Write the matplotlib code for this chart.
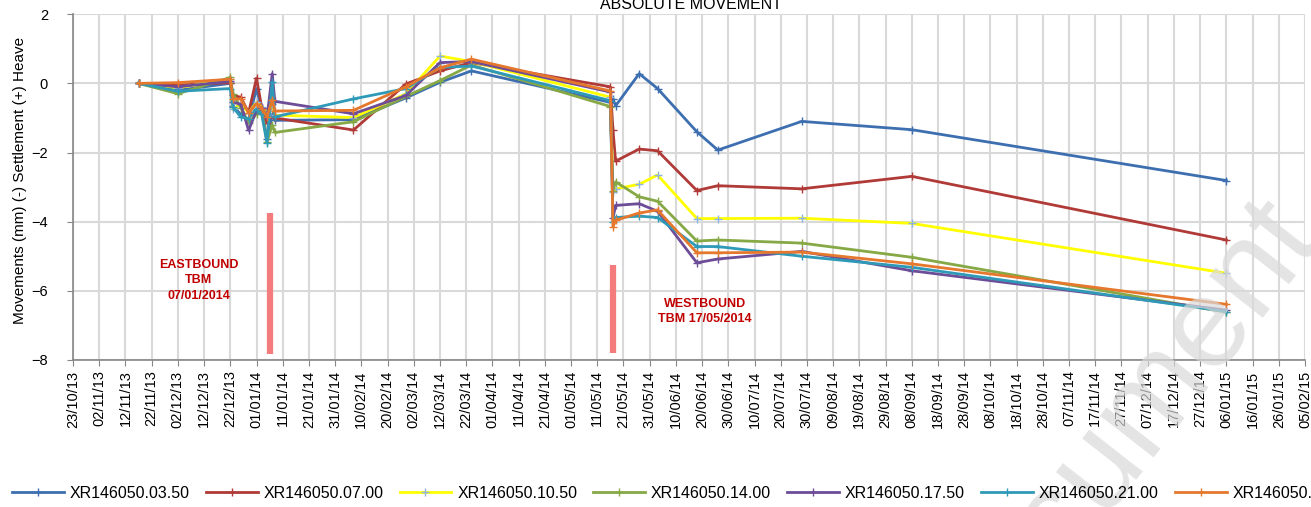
import numpy as np
import pandas as pd
import matplotlib
matplotlib.use("Agg")
import matplotlib.pyplot as plt
import matplotlib.dates as mdates

plt.rcParams['font.family'] = ['Liberation Sans', 'DejaVu Sans']

# survey dates
dates = pd.to_datetime([
    '2013-11-17', '2013-12-02', '2013-12-22', '2013-12-23', '2013-12-26',
    '2013-12-29', '2014-01-01', '2014-01-03', '2014-01-05', '2014-01-07',
    '2014-01-08', '2014-02-07', '2014-02-27', '2014-03-12', '2014-03-24',
    '2014-05-16', '2014-05-17', '2014-05-18', '2014-05-27', '2014-06-03',
    '2014-06-18', '2014-06-26', '2014-07-28', '2014-09-08', '2015-01-06'])

# movements (mm) per monitoring point
xr_03_50 = [0, -0.20, 0.00, -0.65, -0.90, -1.05, -0.15, -0.75, -1.60, -0.90, -1.07, -1.05, -0.42,
            0.03, 0.36, -0.55, -0.45, -0.65, 0.28, -0.15, -1.40, -1.93, -1.10, -1.34, -2.81]
xr_07_00 = [0, -0.05, 0.02, -0.35, -0.40, -0.85, 0.15, -0.70, -1.15, -0.50, -1.00, -1.35, -0.02,
            0.36, 0.60, -0.10, -1.35, -2.25, -1.90, -1.95, -3.10, -2.96, -3.05, -2.69, -4.53]
xr_10_50 = [0, -0.13, 0.12, -0.75, -0.60, -0.85, -0.55, -0.68, -0.88, -0.60, -0.92, -0.99, -0.30,
            0.79, 0.63, -0.40, -3.15, -3.05, -2.92, -2.65, -3.91, -3.91, -3.90, -4.05, -5.49]
xr_14_00 = [0, -0.30, 0.17, -0.30, -0.70, -1.15, -0.88, -0.80, -1.70, -1.20, -1.42, -1.11, -0.38,
            0.08, 0.53, -0.67, -3.10, -2.85, -3.28, -3.41, -4.56, -4.53, -4.62, -5.03, -6.62]
xr_17_50 = [0, -0.10, 0.06, -0.55, -0.60, -1.36, -0.78, -0.70, -1.00, 0.28, -0.52, -0.88, -0.35,
            0.60, 0.63, -0.25, -3.90, -3.53, -3.48, -3.70, -5.19, -5.08, -4.86, -5.42, -6.56]
xr_21_00 = [0, -0.23, -0.15, -0.69, -0.97, -1.02, -0.73, -0.90, -1.72, 0.03, -0.97, -0.45, -0.15,
            0.46, 0.50, -0.50, -4.00, -3.88, -3.84, -3.88, -4.72, -4.72, -5.00, -5.32, -6.60]
xr_24_50 = [0, 0.02, 0.12, -0.45, -0.45, -0.85, -0.59, -0.73, -0.97, -0.47, -0.80, -0.78, -0.10,
            0.45, 0.70, -0.22, -4.15, -3.96, -3.75, -3.66, -4.90, -4.90, -4.88, -5.22, -6.39]

labels = ['XR146050.03.50', 'XR146050.07.00', 'XR146050.10.50', 'XR146050.14.00',
          'XR146050.17.50', 'XR146050.21.00', 'XR146050.24.50']
colors = ['#3d6fb0', '#b03a37', '#ffff00', '#86a845', '#6d4c98', '#2f9ab8', '#e6782d']
marker_colors = ['#3d6fb0', '#b03a37', '#8eb4e3', '#86a845', '#6d4c98', '#2f9ab8', '#e6782d']
series = [xr_03_50, xr_07_00, xr_10_50, xr_14_00, xr_17_50, xr_21_00, xr_24_50]

fig = plt.figure(figsize=(13.11, 5.07), dpi=100)
ax = fig.add_axes([0.0557, 0.29, 0.9397, 0.682])

for vals, lab, c, mc in zip(series, labels, colors, marker_colors):
    ax.plot(dates, vals, color=c, lw=2.0, marker='+', ms=6, mew=1.0,
            mec=mc, label=lab)

# TBM passage markers
ax.plot(pd.to_datetime(['2014-01-06'] * 2), [-3.76, -7.83], color='#f47c7c',
        lw=4.5, solid_capstyle='butt')
ax.plot(pd.to_datetime(['2014-05-17'] * 2), [-5.26, -7.8], color='#f47c7c',
        lw=4.5, solid_capstyle='butt')
ax.text(pd.Timestamp('2013-12-10'), -5.7, 'EASTBOUND\nTBM\n07/01/2014', color='#c00000',
        fontsize=9, fontweight='bold', ha='center', va='center', linespacing=1.4)
ax.text(pd.Timestamp('2014-06-21'), -6.6, 'WESTBOUND\nTBM 17/05/2014', color='#c00000',
        fontsize=9, fontweight='bold', ha='center', va='center', linespacing=1.4)

ticks = pd.date_range('2013-10-23', '2015-02-05', freq='10D')
ax.set_xticks(ticks)
ax.xaxis.set_major_formatter(mdates.DateFormatter('%d/%m/%y'))
ax.set_xlim(ticks[0], ticks[-1])
ax.set_ylim(-8, 2)
ax.set_yticks(np.arange(-8, 3, 2))
ax.tick_params(axis='x', rotation=90, labelsize=10.5, length=4, color='#868686')
ax.tick_params(axis='y', labelsize=10.5, length=4, pad=14, color='#868686')
ax.grid(True, color='#d9d9d9', lw=1.5)
ax.set_axisbelow(True)
for s in ['top', 'right']:
    ax.spines[s].set_visible(False)
for s in ['left', 'bottom']:
    ax.spines[s].set_color('#868686')
    ax.spines[s].set_linewidth(1.2)

ax.set_ylabel('Movements (mm) (-) Settlement (+) Heave', fontsize=11)
ax.yaxis.set_label_coords(-0.037, 0.52)
fig.text(0.527, 0.992, 'ABSOLUTE MOVEMENT', fontsize=11.5, ha='center', va='center')

fig.legend(loc='center left', bbox_to_anchor=(0.003, 0.027), ncol=7, frameon=False,
           borderpad=0, handlelength=3.25, handletextpad=0.37, columnspacing=1.0,
           prop={'size': 11.5})

fig.text(0.85, 0.13, 'Document', fontsize=92, rotation=52, color='#d9d9d9',
         alpha=0.7, ha='center', va='center')

fig.savefig('out.png', dpi=100)
